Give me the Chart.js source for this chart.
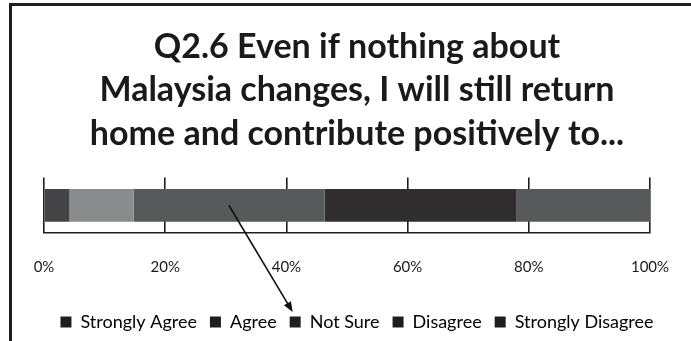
<!DOCTYPE html>
<html>
<head>
<meta charset="utf-8">
<script src="https://cdn.jsdelivr.net/npm/chart.js@4/dist/chart.umd.min.js"></script>
<style>
  html, body { margin: 0; padding: 0; background: #fff; overflow: hidden; }
  #wrap { position: relative; width: 691px; height: 341px; overflow: hidden; }
  #frame {
    position: absolute; left: 9px; top: 3px; width: 700px; height: 360px;
    border-left: 3px solid #1e1e1e; border-top: 3px solid #1e1e1e;
    pointer-events: none;
  }
</style>
</head>
<body>
<div id="wrap">
  <canvas id="likertChart" width="691" height="341"></canvas>
  <div id="frame"></div>
</div>
<script>
// Q2.6 responses, percent of respondents
const question = ['Q2.6'];
const answers = ['Strongly Agree', 'Agree', 'Not Sure', 'Disagree', 'Strongly Disagree'];
const shares = [4.2, 10.6, 31.5, 31.7, 22.0];
const fills = ['#444446', '#8a8b8d', '#58595b', '#2f2d2e', '#58595b'];
const tickLabels = ['0%', '20%', '40%', '60%', '80%', '100%'];

const font = 'Lato, "Open Sans", sans-serif';

// arrow from the middle of the "Not Sure" band down to its legend entry
const arrowPlugin = {
    id: 'notSureArrow',
    afterDraw(chart) {
        const ctx = chart.ctx;
        const x = chart.scales.x;
        const bar = chart.getDatasetMeta(2).data[0];
        const box = chart.legend.legendHitBoxes[2];
        const x0 = x.getPixelForValue(30.5);
        const y0 = bar.y;
        const x1 = box.left + 3;
        const y1 = box.top + box.height / 2 - 10;
        const ang = Math.atan2(y1 - y0, x1 - x0);
        ctx.save();
        ctx.strokeStyle = '#111';
        ctx.fillStyle = '#111';
        ctx.lineWidth = 1.6;
        ctx.beginPath();
        ctx.moveTo(x0, y0);
        ctx.lineTo(x1 - 8 * Math.cos(ang), y1 - 8 * Math.sin(ang));
        ctx.stroke();
        ctx.beginPath();
        ctx.moveTo(x1, y1);
        ctx.lineTo(x1 - 11 * Math.cos(ang - 0.38), y1 - 11 * Math.sin(ang - 0.38));
        ctx.lineTo(x1 - 11 * Math.cos(ang + 0.38), y1 - 11 * Math.sin(ang + 0.38));
        ctx.closePath();
        ctx.fill();
        ctx.restore();
    }
};

// empty side axes just reserve room so the legend can use the full width
const spacer = (w, pos) => ({
    position: pos,
    display: true,
    ticks: {display: false},
    grid: {display: false},
    border: {display: false},
    afterFit: (scale) => { scale.width = w; }
});

let ctx = document.getElementById('likertChart');
const likertChart = new Chart(ctx, {
    type: 'bar',
    data: {
        labels: question,
        datasets: answers.map((name, i) => ({
            label: name,
            data: [shares[i]],
            backgroundColor: fills[i],
            borderWidth: 0,
            barPercentage: 0.59,
            categoryPercentage: 1
        }))
    },
    options: {
        indexAxis: 'y',
        responsive: false,
        animation: false,
        layout: {
            padding: {left: 24, right: 1, top: 20, bottom: 0}
        },
        plugins: {
            title: {
                display: true,
                text: ['Q2.6 Even if nothing about', 'Malaysia changes, I will still return', 'home and contribute positively to...'],
                color: '#1a1a1a',
                font: {family: font, size: 34, weight: 'bold', lineHeight: 1.28},
                padding: {top: 5, bottom: 22}
            },
            legend: {
                display: true,
                position: 'bottom',
                labels: {
                    color: '#1a1a1a',
                    font: {family: font, size: 18},
                    boxWidth: 11,
                    boxHeight: 11,
                    padding: 13,
                    generateLabels: (chart) => chart.data.datasets.map((ds, i) => ({
                        text: ds.label,
                        fillStyle: '#1e1e1e',
                        strokeStyle: '#1e1e1e',
                        lineWidth: 0,
                        datasetIndex: i,
                        hidden: false
                    }))
                }
            },
            tooltip: {enabled: false}
        },
        scales: {
            x: {
                stacked: true,
                min: 0,
                max: 100,
                afterFit: (scale) => {
                    scale.height = 67;
                    // edge labels may spill past the plot, the side spacers cover them
                    scale.paddingLeft = 0;
                    scale.paddingRight = 0;
                },
                afterBuildTicks: (scale) => {
                    scale.ticks = tickLabels.map((t, i) => ({value: i * 20}));
                },
                ticks: {
                    callback: (v, i) => tickLabels[i],
                    color: '#1a1a1a',
                    font: {family: font, size: 15},
                    padding: 25,
                    maxRotation: 0
                },
                grid: {
                    color: '#1e1e1e',
                    lineWidth: 1.6,
                    drawTicks: false
                },
                border: {color: '#1e1e1e', width: 1.6}
            },
            y: Object.assign({stacked: true}, spacer(20, 'left')),
            yRight: Object.assign({type: 'category'}, spacer(40, 'right'))
        }
    },
    plugins: [arrowPlugin]
});
</script>
</body>
</html>
